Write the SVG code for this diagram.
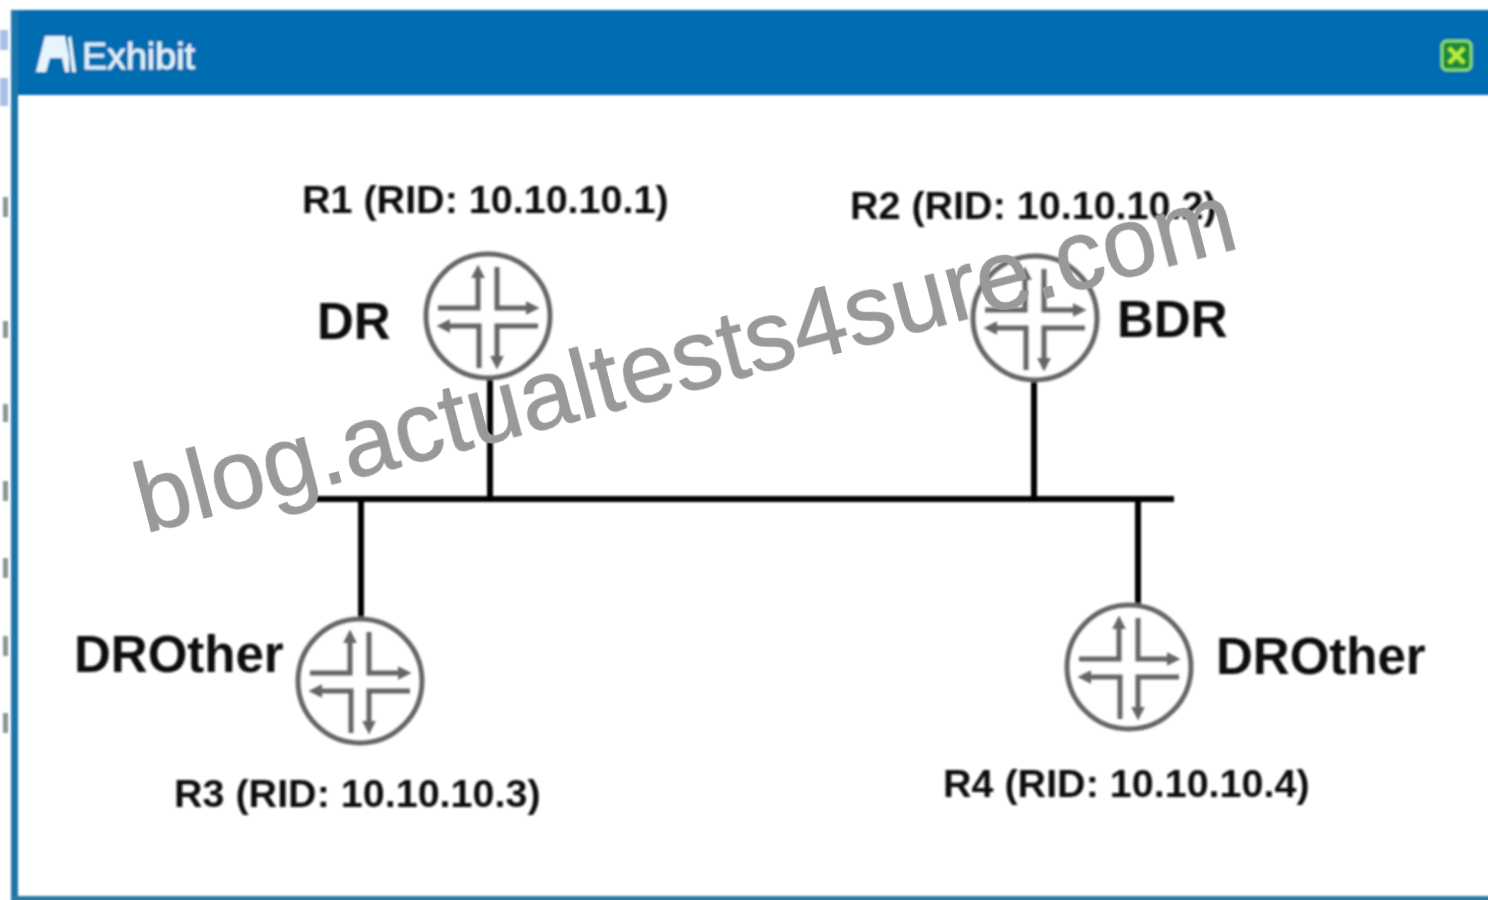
<svg xmlns="http://www.w3.org/2000/svg" width="1488" height="900" viewBox="0 0 1488 900">
<style>
.lbl{font-family:"Liberation Sans",Arial,sans-serif;font-weight:700;fill:#111}
.rid{font-size:39.5px}
.role{font-size:51px}
.wire{stroke:#000;stroke-width:6;fill:none}
.rt{fill:none;stroke:#666;stroke-width:5}
.frag{fill:#8f9296}
</style>
<defs>
<filter id="soft" x="-5%" y="-5%" width="110%" height="110%"><feGaussianBlur stdDeviation="1"/></filter>
<marker id="ah" viewBox="0 0 10 10" refX="6" refY="5" markerWidth="2.8" markerHeight="2.8" orient="auto"><path d="M0 0L10 5L0 10Z" fill="#666"/></marker>
<g id="router">
<circle class="rt" r="62" fill="#fff"/>
<path class="rt" marker-end="url(#ah)" d="M-50-8H-10V-46"/>
<path class="rt" marker-end="url(#ah)" d="M9-49V-8H46"/>
<path class="rt" marker-end="url(#ah)" d="M-9 52V10H-46"/>
<path class="rt" marker-end="url(#ah)" d="M50 10H9V48"/>
</g>
</defs>
<rect width="1488" height="900" fill="#fff"/>
<g id="page-edge" filter="url(#soft)">
<rect x="0" y="30" width="8" height="20" fill="#a9bfe6"/>
<rect x="0" y="78" width="8" height="28" fill="#a9bfe6"/>
<rect class="frag" x="3" y="197" width="5" height="20"/>
<rect class="frag" x="3" y="321" width="5" height="17"/>
<rect class="frag" x="3" y="404" width="5" height="18"/>
<rect class="frag" x="3" y="481" width="5" height="20"/>
<rect class="frag" x="3" y="558" width="5" height="20"/>
<rect class="frag" x="3" y="636" width="5" height="20"/>
<rect class="frag" x="3" y="713" width="5" height="20"/>
</g>
<g id="window" filter="url(#soft)">
<rect x="11" y="10" width="1490" height="85" fill="#066cb1"/>
<rect x="11" y="10" width="7" height="900" fill="#1f76a8"/>
<rect x="11" y="896" width="1490" height="10" fill="#2a7ba8"/>
<g id="title-icon" fill="#e6f4fb">
<path d="M45 36H65L69 56V72H65L62 58H50L46 72H36Z"/>
<path d="M68 38L71 36L76 72H72Z"/>
</g>
<text x="82" y="69" font-family="'Liberation Sans',Arial,sans-serif" font-size="37" fill="#dff1fa" stroke="#dff1fa" stroke-width="0.8" textLength="113" lengthAdjust="spacingAndGlyphs">Exhibit</text>
<g id="close-button">
<rect x="1442" y="41" width="29" height="29" rx="5" fill="#1d8a3a" stroke="#86e070" stroke-width="3"/>
<path d="M1449 48L1464 63M1464 48L1449 63" stroke="#b6ee3a" stroke-width="4.5"/>
</g>
</g>
<g id="diagram" filter="url(#soft)">
<g id="connectors">
<path class="wire" d="M314 499H1174"/>
<path class="wire" d="M490 378V499"/>
<path class="wire" d="M1034 380V499"/>
<path class="wire" d="M361 499V618"/>
<path class="wire" d="M1138 499V604"/>
</g>
<g id="r1"><use href="#router" x="488" y="316"/>
<text class="lbl rid" x="302" y="213">R1 (RID: 10.10.10.1)</text>
<text class="lbl role" x="317" y="339">DR</text></g>
<g id="r2"><use href="#router" x="1035" y="318"/>
<text class="lbl rid" x="850" y="219">R2 (RID: 10.10.10.2)</text>
<text class="lbl role" x="1117" y="337">BDR</text></g>
<g id="r3"><use href="#router" x="360" y="681"/>
<text class="lbl rid" x="174" y="807">R3 (RID: 10.10.10.3)</text>
<text class="lbl role" x="74" y="672">DROther</text></g>
<g id="r4"><use href="#router" x="1129" y="667"/>
<text class="lbl rid" x="943" y="797">R4 (RID: 10.10.10.4)</text>
<text class="lbl role" x="1216" y="674">DROther</text></g>
</g>
<text id="watermark" transform="translate(145,533) rotate(-14.6)" font-family="'Liberation Sans',Arial,sans-serif" font-size="97.5" fill="#999" stroke="#999" stroke-width="1">blog.actualtests4sure.com</text>
</svg>
